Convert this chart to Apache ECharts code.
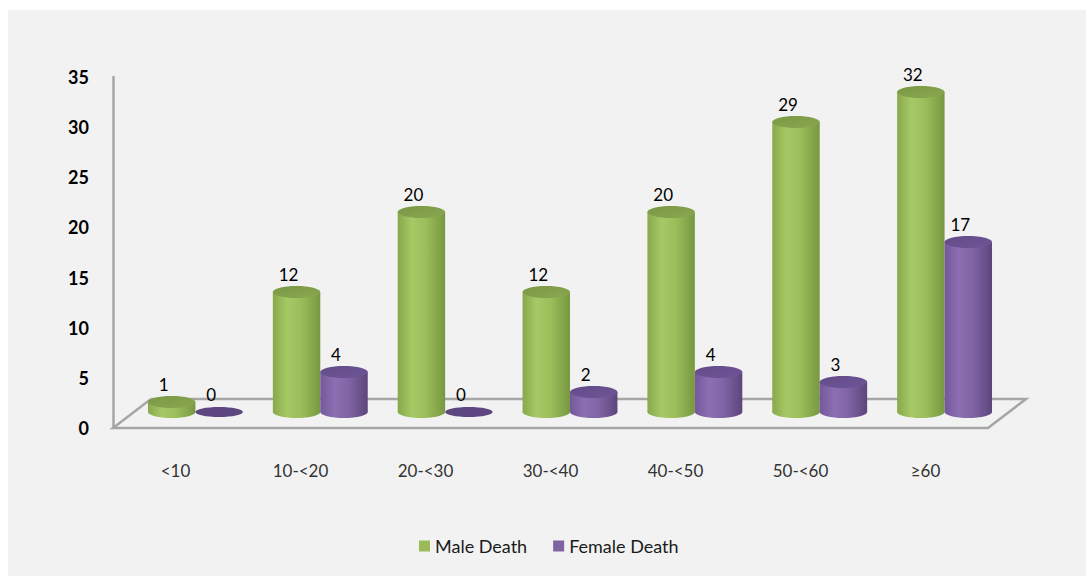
<!DOCTYPE html>
<html>
<head>
<meta charset="utf-8">
<script src="https://cdn.jsdelivr.net/npm/echarts@6/dist/echarts.min.js"></script>
<style>
html,body{margin:0;padding:0;background:#ffffff;}
#c{position:absolute;left:8px;top:10px;width:1078px;height:566px;background:#f2f2f2;}
</style>
</head>
<body>
<div id="c"></div>
<script>
const categories = ['<10', '10-<20', '20-<30', '30-<40', '40-<50', '50-<60', '≥60'];
const maleDeath = [1, 12, 20, 12, 20, 29, 32];
const femaleDeath = [0, 4, 0, 2, 4, 3, 17];
const yTicks = {min: 0, max: 35, interval: 5};

const chart = echarts.init(document.getElementById('c'), null, {renderer: 'svg'});
const OX = 8, OY = 10;
const LG = echarts.graphic.LinearGradient;
const FONT = 'Lato, "Noto Sans", sans-serif';

function cyl(side, body, topFill, zeroFill) {
  return function (params, api) {
    const ci = api.value(0), v = api.value(1);
    const top = api.coord([ci, v]);
    const base = api.coord([ci, 0]);
    const band = api.size([1, 0])[0];
    const w = band * 0.38;
    const cx = top[0] + side * w / 2;
    const rx = w / 2, ry = 6;
    const children = [];
    if (v === 0) {
      children.push({type: 'ellipse', shape: {cx: cx, cy: base[1], rx: rx, ry: ry - 1}, style: {fill: zeroFill}});
    } else {
      children.push({type: 'ellipse', shape: {cx: cx, cy: base[1], rx: rx, ry: ry},
        style: {fill: new LG(0, 0, 1, 0, body)}});
      children.push({type: 'rect', shape: {x: cx - rx, y: top[1], width: w, height: base[1] - top[1]},
        style: {fill: new LG(0, 0, 1, 0, body)}});
      children.push({type: 'ellipse', shape: {cx: cx, cy: top[1], rx: rx, ry: ry},
        style: {fill: new LG(0, 0, 1, 1, topFill)}});
    }
    children.push({type: 'text', x: cx - 8, y: top[1] - 18,
      style: {text: String(v), align: 'center', verticalAlign: 'middle',
        fontSize: 17, fontFamily: FONT, fill: '#000000'}});
    return {type: 'group', children: children};
  };
}

function floor(params, api) {
  const band = api.size([1, 0])[0];
  const l = api.coord([0, 0]);
  const r = api.coord([categories.length - 1, 0]);
  const x0 = l[0] - band / 2, x1 = r[0] + band / 2, y = l[1];
  const dx = 38, dy = -29;
  return {type: 'polyline', shape: {points: [
      [x0 + dx, y + dy], [x0, y], [x1, y], [x1 + dx, y + dy], [x0 + dx, y + dy]]},
    style: {stroke: '#a6a6a6', lineWidth: 2.5, fill: null}};
}

const greenBody = [
  {offset: 0, color: '#88a84c'}, {offset: 0.3, color: '#a6c965'},
  {offset: 0.6, color: '#9bbd5a'}, {offset: 1, color: '#779840'}];
const greenTop = [{offset: 0, color: '#7a9744'}, {offset: 1, color: '#8aa851'}];
const purpleBody = [
  {offset: 0, color: '#73589a'}, {offset: 0.3, color: '#8c6fb2'},
  {offset: 0.6, color: '#8064a4'}, {offset: 1, color: '#5c467c'}];
const purpleTop = [{offset: 0, color: '#634b88'}, {offset: 1, color: '#6f5597'}];

chart.setOption({
  backgroundColor: '#f2f2f2',
  animation: false,
  grid: [
    {left: 113 - OX, right: 1086 - 988, top: 77 - OY, bottom: 576 - 428},
    {left: 133 - OX, right: 1086 - 1007, top: 62 - OY, bottom: 576 - 412}
  ],
  xAxis: [
    {type: 'category', gridIndex: 0, data: categories,
      axisLine: {show: false}, axisTick: {show: false},
      axisLabel: {margin: 34, fontSize: 17, color: '#333333', fontFamily: FONT}},
    {type: 'category', gridIndex: 1, data: categories, show: false}
  ],
  yAxis: [
    {type: 'value', gridIndex: 0, min: yTicks.min, max: yTicks.max, interval: yTicks.interval,
      axisLine: {show: true, lineStyle: {color: '#a6a6a6', width: 2.5}},
      axisTick: {show: false}, splitLine: {show: false},
      axisLabel: {margin: 24, fontSize: 18, fontWeight: 'bold', color: '#000000', fontFamily: FONT}},
    {type: 'value', gridIndex: 1, min: yTicks.min, max: yTicks.max, show: false}
  ],
  legend: {
    left: 414 - OX, top: 532 - OY, icon: 'rect', itemWidth: 11, itemHeight: 11, itemGap: 26,
    textStyle: {fontSize: 18, color: '#1a1a1a', fontFamily: FONT},
    data: [
      {name: 'Male Death', itemStyle: {color: '#9bbb59'}},
      {name: 'Female Death', itemStyle: {color: '#8064a2'}}
    ]
  },
  series: [
    {type: 'custom', name: 'floor', xAxisIndex: 0, yAxisIndex: 0, z: 1,
      data: [[0, 0]], renderItem: floor, silent: true},
    {type: 'custom', name: 'Male Death', xAxisIndex: 1, yAxisIndex: 1, z: 3,
      itemStyle: {color: '#9bbb59'},
      data: maleDeath.map((v, i) => [i, v]),
      renderItem: cyl(-1, greenBody, greenTop, '#7a9a42')},
    {type: 'custom', name: 'Female Death', xAxisIndex: 1, yAxisIndex: 1, z: 3,
      itemStyle: {color: '#8064a2'},
      data: femaleDeath.map((v, i) => [i, v]),
      renderItem: cyl(1, purpleBody, purpleTop, '#5e4780')}
  ]
});
</script>
</body>
</html>
